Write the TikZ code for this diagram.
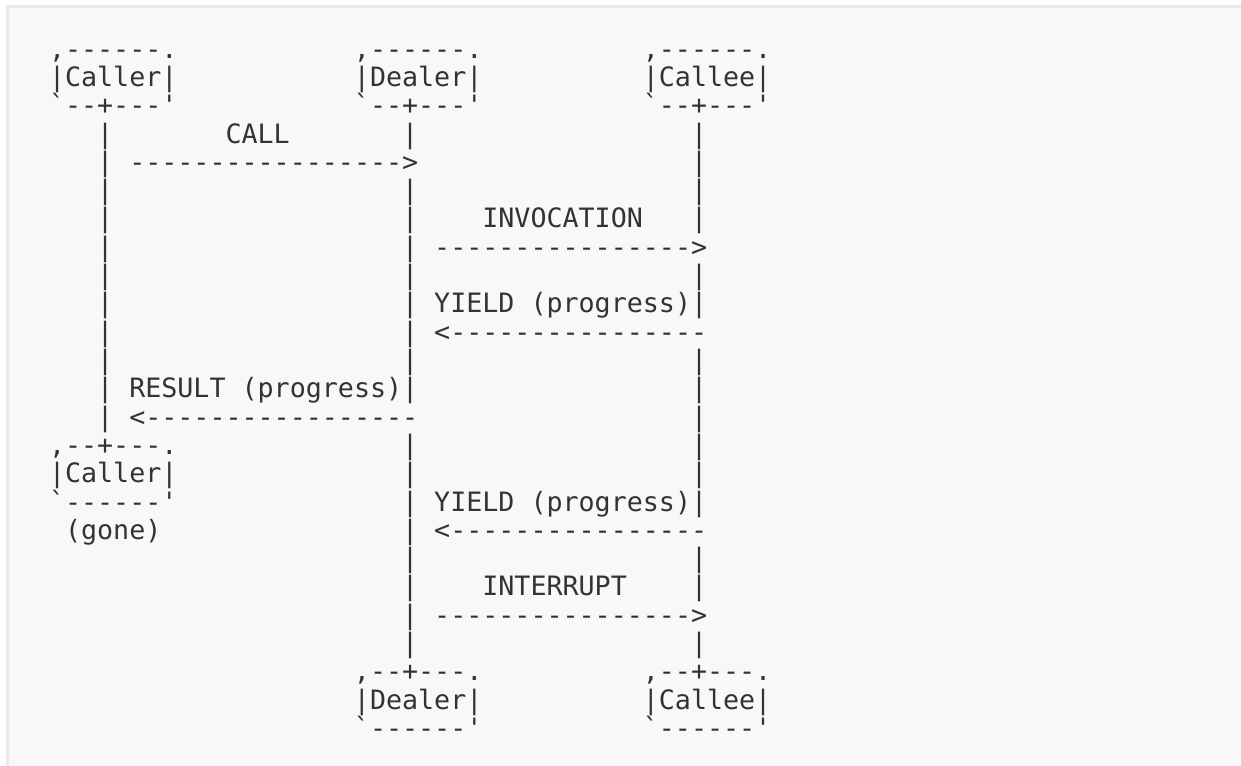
\documentclass[tikz,border=0pt]{standalone}
\usepackage{fontspec}
\setmonofont{DejaVu Sans Mono}
\definecolor{ink}{HTML}{333333}
\definecolor{panel}{HTML}{F8F8F8}
\definecolor{rim}{HTML}{EAEAEA}
\tikzset{txt/.style={anchor=base west, inner sep=0pt, outer sep=0pt, text=ink,
    font=\ttfamily\fontsize{20}{24}\selectfont}}
% column width and line height, in pixels
\newcommand{\cw}{16.05}
\newcommand{\lh}{28.3}
\newcommand{\asc}[4]{\node[txt] (#1) at ({49+#2*\cw},{86.5+(#3-1)*\lh}) {#4};}

\begin{document}
\begin{tikzpicture}[x=0.75pt,y=-0.75pt]
        \useasboundingbox (0,0) rectangle (1241,766);
        \fill[white] (0,0) rectangle (1241,766);
        \fill[rim] (6,5) rectangle (1241,766);
        \fill[panel] (9,8) rectangle (1241,766);
        % heads
        \asc{callerT}{0}{0}{,------.}
        \asc{callerM}{0}{1}{|Caller|}
        \asc{callerB}{0}{2}{`--+---'}
        \asc{dealerT}{19}{0}{,------.}
        \asc{dealerM}{19}{1}{|Dealer|}
        \asc{dealerB}{19}{2}{`--+---'}
        \asc{calleeT}{37}{0}{,------.}
        \asc{calleeM}{37}{1}{|Callee|}
        \asc{calleeB}{37}{2}{`--+---'}
        % lifelines
        \foreach \r in {3,4,5,6,7,8,9,10,11,13}
            \asc{cl\r}{3}{\r}{|};
        \foreach \r in {3,5,6,7,8,9,10,11,14,15,16,17,18,19,20,21}
            \asc{dl\r}{22}{\r}{|};
        \foreach \r in {3,4,5,6,8,11,12,13,14,15,18,19,21}
            \asc{el\r}{40}{\r}{|};
        % messages
        \asc{call}{11}{3}{CALL}
        \asc{callA}{5}{4}{----------------->}
        \asc{invoc}{27}{6}{INVOCATION}
        \asc{invocA}{24}{7}{---------------->}
        \asc{yieldA}{24}{9}{YIELD (progress)|}
        \asc{yieldAA}{24}{10}{<----------------}
        \asc{result}{3}{12}{| RESULT (progress)|}
        \asc{resultA}{5}{13}{<-----------------}
        \asc{yieldB}{24}{16}{YIELD (progress)|}
        \asc{yieldBA}{24}{17}{<----------------}
        \asc{intr}{27}{19}{INTERRUPT}
        \asc{intrA}{24}{20}{---------------->}
        % caller leaves
        \asc{goneT}{0}{14}{,--+---.}
        \asc{goneM}{0}{15}{|Caller|}
        \asc{goneB}{0}{16}{`------'}
        \asc{gone}{1}{17}{(gone)}
        % tails
        \asc{dealerTT}{19}{22}{,--+---.}
        \asc{dealerTM}{19}{23}{|Dealer|}
        \asc{dealerTB}{19}{24}{`------'}
        \asc{calleeTT}{37}{22}{,--+---.}
        \asc{calleeTM}{37}{23}{|Callee|}
        \asc{calleeTB}{37}{24}{`------'}
    \end{tikzpicture}
\end{document}
